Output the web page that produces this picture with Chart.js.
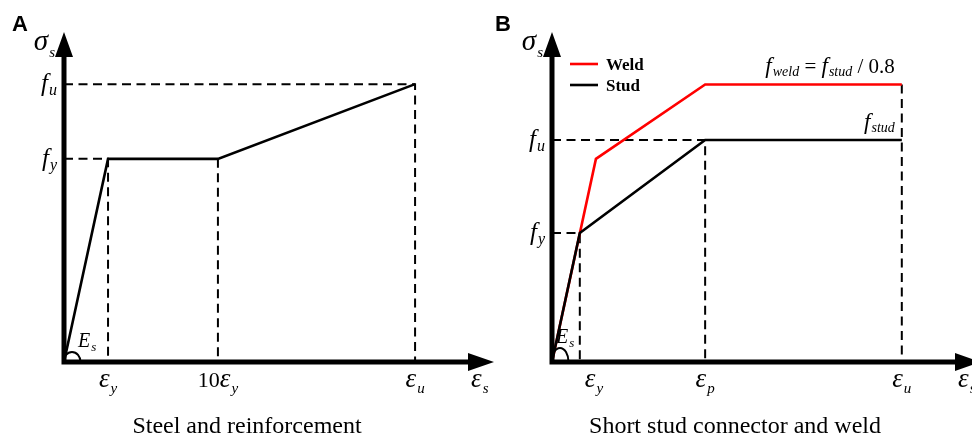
<!DOCTYPE html>
<html>
<head>
<meta charset="utf-8">
<title>Stress–strain models</title>
<script src="https://cdn.jsdelivr.net/npm/chart.js@4.4.1/dist/chart.umd.min.js"></script>
<style>
  html, body { margin: 0; padding: 0; background: #fff; }
  #wrap { position: relative; width: 972px; height: 441px; overflow: hidden; }
  #wrap canvas { position: absolute; left: 0; top: 0; }
</style>
</head>
<body>
<div id="wrap">
  <canvas id="steel" width="972" height="441"></canvas>
  <canvas id="stud" width="972" height="441"></canvas>
</div>
<script>
// Schematic units: each axis runs 0–100 from the origin to the base of its arrowhead.

// Panel A – steel and reinforcement
const steelStrain = [0, 10.9, 38.1, 86.9];
const steelStress = [0, 66.6, 66.6, 91.1];
const steelStrainTicks = ['ε_y', '10ε_y', 'ε_u'];
const steelStressTicks = ['f_y', 'f_u'];

// Panel B – short stud connector and weld
const seriesNames = ['Weld', 'Stud'];
const studStrain = [0, 6.9, 38.0, 86.8];
const studStress = [0, 42.3, 72.8, 72.8];
const weldStrain = [0, 10.9, 38.0, 86.8];
const weldYieldStress = 66.6;
// f_weld = f_stud / 0.8
const weldStress = [0, weldYieldStress, studStress[2] / 0.8, studStress[3] / 0.8];
const studStrainTicks = ['ε_y', 'ε_p', 'ε_u'];
const studStressTicks = ['f_y', 'f_u'];

const SERIF = '"Liberation Serif", "Times New Roman", serif';
const SANS = '"Liberation Sans", Arial, sans-serif';

const pts = (xs, ys) => xs.map((x, i) => ({ x, y: ys[i] }));

// Parse "10ε_y" into upright digits, italic symbol and italic subscript
function symbolSegs(label, size, subSize, subDy) {
  const [main, sub] = label.split('_');
  const m = main.match(/^(\d*)(.*)$/);
  const segs = [];
  if (m[1]) segs.push({ t: m[1], font: `${size - 5}px ${SERIF}` });
  if (m[2]) segs.push({ t: m[2], font: `italic ${size}px ${SERIF}` });
  if (sub) segs.push({ t: sub, font: `italic ${subSize}px ${SERIF}`, dy: subDy, dx: 1 });
  return segs;
}

function drawRich(ctx, segs, x, y, align) {
  let w = 0;
  segs.forEach(s => { ctx.font = s.font; s.w = ctx.measureText(s.t).width + (s.dx || 0); w += s.w; });
  let cx = align === 'right' ? x - w : align === 'center' ? x - w / 2 : x;
  ctx.textAlign = 'left';
  ctx.textBaseline = 'alphabetic';
  segs.forEach(s => {
    ctx.font = s.font;
    ctx.fillStyle = s.color || '#000';
    ctx.fillText(s.t, cx + (s.dx || 0), y + (s.dy || 0));
    cx += s.w;
  });
}

// Draws the arrowed axes, the symbolic tick labels, the E_s marker and the captions
function makeSchematic(cfg) {
  return {
    id: 'schematic',
    afterDatasetsDraw(chart) {
      const { ctx, scales: { x, y } } = chart;
      const ox = x.getPixelForValue(0), oy = y.getPixelForValue(0);
      const xe = x.getPixelForValue(100), ye = y.getPixelForValue(100);
      ctx.save();

      // E_s angle marker
      ctx.strokeStyle = '#000';
      ctx.lineWidth = 2;
      ctx.beginPath();
      ctx.ellipse(ox + 8, oy, 8.5, cfg.arcRy, 0, Math.PI, 2 * Math.PI);
      ctx.stroke();

      // axes with arrowheads
      ctx.lineWidth = 5;
      ctx.lineCap = 'butt';
      ctx.beginPath();
      ctx.moveTo(ox, oy + 2.5); ctx.lineTo(ox, ye);
      ctx.moveTo(ox - 2.5, oy); ctx.lineTo(xe, oy);
      ctx.stroke();
      ctx.fillStyle = '#000';
      ctx.beginPath();
      ctx.moveTo(xe, oy - 9); ctx.lineTo(xe + 26, oy); ctx.lineTo(xe, oy + 9); ctx.closePath();
      ctx.moveTo(ox - 9, ye); ctx.lineTo(ox, ye - 25); ctx.lineTo(ox + 9, ye); ctx.closePath();
      ctx.fill();

      // axis titles
      drawRich(ctx, symbolSegs('σ_s', 29, 15, 7), ox - 9, ye - 7, 'right');
      drawRich(ctx, symbolSegs('ε_s', 27, 15, 6), xe + 3, oy + 25, 'left');

      // stress ticks
      cfg.yTicks.forEach(t => {
        const py = y.getPixelForValue(t.v);
        drawRich(ctx, symbolSegs(t.label, 25, 16, 4), ox - 7, py + 7, 'right');
      });
      // strain ticks
      cfg.xTicks.forEach(t => {
        const px = Math.max(x.getPixelForValue(t.v), ox + 42);
        drawRich(ctx, symbolSegs(t.label, 27, 15, 6), px, oy + 25, 'center');
      });

      // E_s
      drawRich(ctx, symbolSegs('E_s', 20, 13, 4), ox + cfg.esDx, oy + cfg.esDy, 'left');

      // panel letter
      ctx.font = `bold 22px ${SANS}`;
      ctx.fillStyle = '#000';
      ctx.textAlign = 'left';
      ctx.fillText(cfg.letter, ox - cfg.letterDx, 31);

      // caption
      ctx.font = `24px ${SERIF}`;
      ctx.textAlign = 'center';
      ctx.fillText(cfg.caption, cfg.captionX, 433);

      // legend
      if (cfg.legend) {
        const items = chart.data.datasets.filter(d => d.label);
        const order = seriesNames.map(n => items.find(d => d.label === n));
        order.forEach((d, i) => {
          const ly = ye + 7 + i * 21;
          ctx.strokeStyle = d.borderColor;
          ctx.lineWidth = 2.6;
          ctx.beginPath();
          ctx.moveTo(ox + 18, ly); ctx.lineTo(ox + 46, ly);
          ctx.stroke();
          ctx.font = `bold 17px ${SERIF}`;
          ctx.fillStyle = '#000';
          ctx.textAlign = 'left';
          ctx.fillText(d.label, ox + 54, ly + 6);
        });
      }

      // plateau annotations
      (cfg.notes || []).forEach(n => {
        drawRich(ctx, n.segs, x.getPixelForValue(n.x) - 7, y.getPixelForValue(n.y) - 11, 'right');
      });

      ctx.restore();
    }
  };
}

function guide(points) {
  return {
    data: points,
    showLine: true,
    borderColor: '#000',
    borderWidth: 2,
    borderDash: [9, 5.5],
    pointRadius: 0,
    fill: false,
    clip: false,
    order: 5
  };
}

function curve(label, xs, ys, color, order) {
  return {
    label,
    data: pts(xs, ys),
    showLine: true,
    borderColor: color,
    borderWidth: 2.6,
    pointRadius: 0,
    fill: false,
    clip: false,
    tension: 0,
    order
  };
}

function baseOptions(padding) {
  return {
    responsive: false,
    animation: false,
    devicePixelRatio: 1,
    events: [],
    layout: { padding },
    plugins: { legend: { display: false }, tooltip: { enabled: false } },
    scales: {
      x: { type: 'linear', min: 0, max: 100, display: false },
      y: { type: 'linear', min: 0, max: 100, display: false }
    }
  };
}

// ---- Panel A ----
const [, sEy, sEh, sEu] = steelStrain;
const sFy = steelStress[1], sFu = steelStress[3];
new Chart(document.getElementById('steel'), {
  type: 'scatter',
  data: {
    datasets: [
      curve('', steelStrain, steelStress, '#000', 0),
      guide([{ x: 0, y: sFy }, { x: sEy, y: sFy }, { x: sEy, y: 0 }]),
      guide([{ x: sEh, y: sFy }, { x: sEh, y: 0 }]),
      guide([{ x: 0, y: sFu }, { x: sEu, y: sFu }, { x: sEu, y: 0 }])
    ]
  },
  options: baseOptions({ left: 64, right: 972 - 468, top: 57, bottom: 79 }),
  plugins: [makeSchematic({
    letter: 'A', letterDx: 52,
    caption: 'Steel and reinforcement', captionX: 247,
    xTicks: steelStrainTicks.map((label, i) => ({ label, v: steelStrain[i + 1] })),
    yTicks: steelStressTicks.map((label, i) => ({ label, v: [sFy, sFu][i] })),
    esDx: 14, esDy: -15, arcRy: 10
  })]
});

// ---- Panel B ----
const [, bEy, bEp, bEu] = studStrain;
const bFy = studStress[1], bFu = studStress[2], wFu = weldStress[3];
const sub = (t) => ({ t, font: `italic 14px ${SERIF}`, dy: 3, dx: 1 });
const ital = (t) => ({ t, font: `italic 23px ${SERIF}` });
const up = (t) => ({ t, font: `21px ${SERIF}` });
new Chart(document.getElementById('stud'), {
  type: 'scatter',
  data: {
    datasets: [
      curve(seriesNames[1], studStrain, studStress, '#000', 0),
      curve(seriesNames[0], weldStrain, weldStress, '#ff0000', 1),
      guide([{ x: 0, y: bFy }, { x: bEy, y: bFy }, { x: bEy, y: 0 }]),
      guide([{ x: 0, y: bFu }, { x: bEp, y: bFu }, { x: bEp, y: 0 }]),
      guide([{ x: bEu, y: wFu }, { x: bEu, y: 0 }])
    ]
  },
  options: baseOptions({ left: 552, right: 972 - 955, top: 57, bottom: 79 }),
  plugins: [makeSchematic({
    letter: 'B', letterDx: 57,
    caption: 'Short stud connector and weld', captionX: 735,
    xTicks: studStrainTicks.map((label, i) => ({ label, v: studStrain[i + 1] })),
    yTicks: studStressTicks.map((label, i) => ({ label, v: [bFy, bFu][i] })),
    esDx: 4, esDy: -19, arcRy: 14,
    legend: true,
    notes: [
      { x: bEu, y: wFu, segs: [ital('f'), sub('weld'), up(' = '), ital('f'), sub('stud'), up(' / 0.8')] },
      { x: bEu, y: studStress[3], segs: [ital('f'), sub('stud')] }
    ]
  })]
});
</script>
</body>
</html>
